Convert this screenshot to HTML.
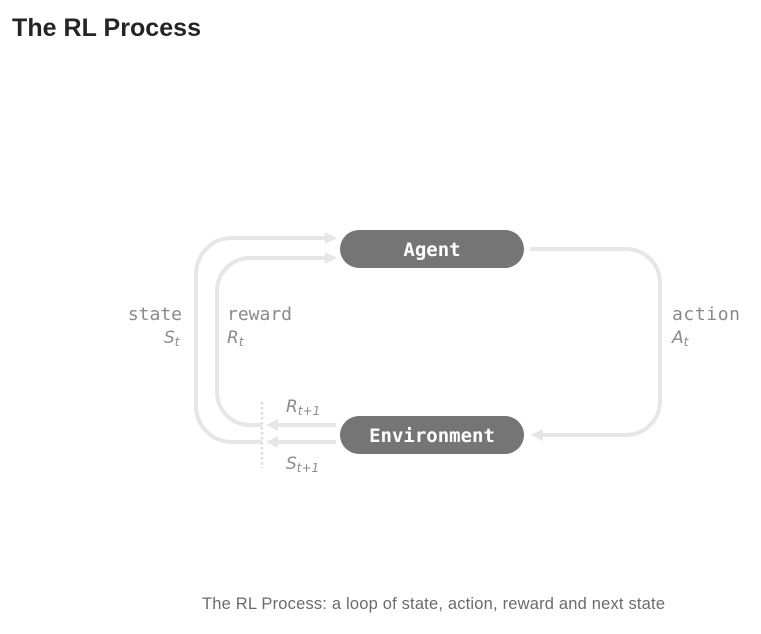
<!DOCTYPE html>
<html><head><meta charset="utf-8"><style>
html,body{margin:0;padding:0;background:#fff;width:761px;height:634px;overflow:hidden}
svg{position:absolute;left:0;top:0}
</style></head><body>
<svg width="761" height="634" viewBox="0 0 761 634" xmlns="http://www.w3.org/2000/svg">
<text x="12" y="36" font-family="Liberation Sans, sans-serif" font-size="25" font-weight="bold" fill="#242424" textLength="189">The RL Process</text>
<g fill="none" stroke="#e6e6e6" stroke-width="4">
<path d="M330 238 H232 A36 36 0 0 0 196 274 V406 A36 36 0 0 0 232 442 H262"/>
<path d="M330 258 H250 A33 33 0 0 0 217 291 V392 A33 33 0 0 0 250 425 H262"/>
<path d="M336 425 H272"/>
<path d="M336 442 H272"/>
<path d="M530 249 H626 A34 34 0 0 1 660 283 V401 A34 34 0 0 1 626 435 H540"/>
</g>
<g fill="#e6e6e6">
<polygon points="337,238 325,232 325,244"/>
<polygon points="337,258 325,252 325,264"/>
<polygon points="266,425 278,419 278,431"/>
<polygon points="266,442 278,436 278,448"/>
<polygon points="531,435 543,429 543,441"/>
</g>
<line x1="262" y1="402" x2="262" y2="468" stroke="#dedede" stroke-width="2.5" stroke-dasharray="2.5,2.5"/>
<rect x="340" y="230" width="184" height="38" rx="19" fill="#757575"/>
<rect x="340" y="416" width="184" height="38" rx="19" fill="#757575"/>
<g font-family="DejaVu Sans Mono, Liberation Mono, monospace" font-weight="bold" font-size="19" fill="#fff" text-anchor="middle">
<text x="432" y="256">Agent</text>
<text x="432" y="442">Environment</text>
</g>
<g font-family="DejaVu Sans Mono, Liberation Mono, monospace" font-size="18" fill="#8a8a8a">
<text x="182" y="320" text-anchor="end">state</text>
<text x="227" y="320">reward</text>
<text x="672" y="320" textLength="68">action</text>
</g>
<g font-family="DejaVu Sans, sans-serif" font-style="italic" font-size="17" fill="#8a8a8a">
<text x="164" y="343">S<tspan font-size="12" dy="3">t</tspan></text>
<text x="227" y="343">R<tspan font-size="12" dy="3">t</tspan></text>
<text x="672" y="343">A<tspan font-size="12" dy="3">t</tspan></text>
<text x="286" y="412">R<tspan font-size="12" dy="3">t+1</tspan></text>
<text x="286" y="469">S<tspan font-size="12" dy="3">t+1</tspan></text>
</g>
<text x="202" y="609" font-family="Liberation Sans, sans-serif" font-size="16.5" fill="#6b6b6b" textLength="463">The RL Process: a loop of state, action, reward and next state</text>
</svg>
</body></html>
